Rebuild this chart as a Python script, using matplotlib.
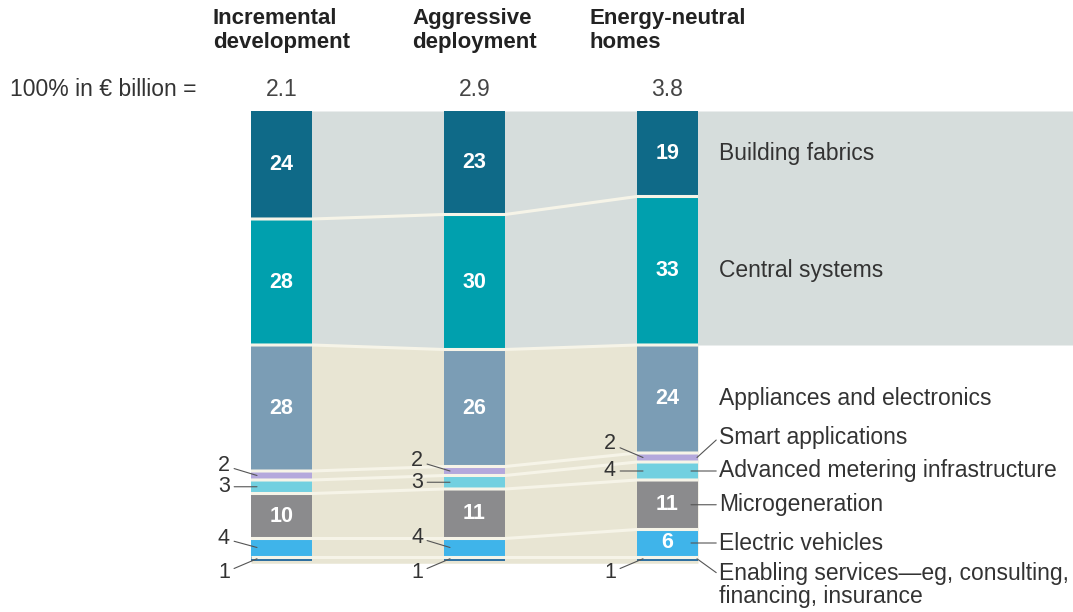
import numpy as np
import matplotlib
matplotlib.use("Agg")
import matplotlib.pyplot as plt

plt.rcParams['font.family'] = ['Liberation Sans', 'DejaVu Sans']

# data (share of total, %)
scenarios = ["Incremental\ndevelopment", "Aggressive\ndeployment", "Energy-neutral\nhomes"]
totals = ["2.1", "2.9", "3.8"]
categories = ["Building fabrics", "Central systems", "Appliances and electronics",
              "Smart applications", "Advanced metering infrastructure", "Microgeneration",
              "Electric vehicles", "Enabling services\u2014eg, consulting,\nfinancing, insurance"]
building = [24, 23, 19]
central = [28, 30, 33]
appliances = [28, 26, 24]
smart = [2, 2, 2]
ami = [3, 3, 4]
micro = [10, 11, 11]
ev = [4, 4, 6]
enabling = [1, 1, 1]

colors = ["#0f6a88", "#00a0ae", "#7b9db5", "#b4a8dc", "#72d0e0", "#8b8b8d", "#3fb4ea", "#2f6f9f"]
band_top = "#d6dddc"
band_bottom = "#e8e5d3"
gap_col = "#f6f4e8"
txt = "#333333"

series = [building, central, appliances, smart, ami, micro, ev, enabling]
vals = np.array(series)            # rows = categories (top to bottom)
n = vals.shape[1]
x = np.arange(n)
w = 61 / 193

# cumulative boundaries, top of each segment
tops = 100 - np.vstack([np.zeros(n), np.cumsum(vals, axis=0)[:-1]])
bottoms = tops - vals

fig = plt.figure(figsize=(10.73, 6.12), dpi=100)
ax = fig.add_axes([0, 0, 1, 1])
ax.set_xlim(-281.5 / 193, (1073 - 281.5) / 193)
ax.set_ylim(-(612 - 561) / 4.5, 100 + 111 / 4.5)
ax.axis("off")

# shaded background bands
xs = np.ravel(np.column_stack([x - w / 2, x + w / 2]))
split = np.repeat(bottoms[1], 2)
ax.fill_between(np.append(xs, ax.get_xlim()[1]), np.append(split, split[-1]), 100,
                color=band_top, lw=0, zorder=0)
ax.fill_between(xs, -0.5, split, color=band_bottom, lw=0, zorder=0)

# stacked bars
for i, row in enumerate(vals):
    ax.bar(x, row, w, bottom=bottoms[i], color=colors[i], lw=0, zorder=2)

# gaps / connectors between segments
for i in range(1, len(vals)):
    ax.plot(xs, np.repeat(tops[i], 2), color=gap_col, lw=2.2, zorder=3,
            solid_capstyle="butt")

# value labels inside bars
for i, row in enumerate(vals):
    for j, v in enumerate(row):
        if v >= 5:
            ax.text(x[j], bottoms[i][j] + v / 2, str(v), ha="center", va="center",
                    color="white", fontsize=15.5, fontweight="bold", zorder=4)

# small values labelled on the left
left_dy = {3: [10, 10, 14], 4: [0, 0, 0], 6: [9, 10, 0], 7: [-14, -14, -14]}
for i, dys in left_dy.items():
    for j in range(n):
        v = vals[i][j]
        if v >= 5:
            continue
        yc = bottoms[i][j] + v / 2
        ax.annotate(str(v), xy=(x[j] - w / 2 + 6 / 193, yc),
                    xytext=(-27, dys[j]), textcoords="offset pixels",
                    ha="right", va="center", fontsize=15.5, color=txt,
                    arrowprops=dict(arrowstyle="-", color="#555555", lw=0.8,
                                    shrinkA=1, shrinkB=0), zorder=5)

# category labels on the right of the last bar
right_dy = [0, 0, 0, 20, 0, 0, 0, -3]
leader = [False, False, False, True, True, True, True, True]
j = n - 1
xt = x[j] + w / 2 + 21 / 193
for i, name in enumerate(categories):
    yc = bottoms[i][j] + vals[i][j] / 2
    if leader[i]:
        start = x[j] + w / 2 - (7 / 193 if right_dy[i] == 0 else 1 / 193)
        multi = "\n" in name
        ax.annotate(name, xy=(start, yc), xytext=(xt, yc + right_dy[i] / 4.5),
                    ha="left", va="top" if multi else "center", fontsize=16.5,
                    color=txt, linespacing=1.0,
                    arrowprops=dict(arrowstyle="-", color="#555555", lw=0.8,
                                    shrinkA=0, shrinkB=0,
                                    relpos=(0, 0.72 if multi else 0.5)),
                    zorder=5)
    else:
        ax.text(xt, yc, name, ha="left", va="center",
                fontsize=16.5, color=txt, zorder=5)

# headers and totals
for j in range(n):
    ax.annotate(scenarios[j], xy=(x[j], 100), xytext=(0, 103),
                textcoords="offset pixels", ha="center", va="top", fontsize=16,
                fontweight="bold", color="#222222", linespacing=1.2,
                multialignment="left")
    ax.annotate(totals[j], xy=(x[j], 100), xytext=(0, 21),
                textcoords="offset pixels", ha="center", va="center", fontsize=16.5,
                color="#444444")
ax.annotate("100% in \u20ac billion =", xy=(x[0] - w / 2, 100), xytext=(-54, 21),
            textcoords="offset pixels", ha="right", va="center", fontsize=16.5, color=txt)

fig.savefig("out.png", dpi=100)
